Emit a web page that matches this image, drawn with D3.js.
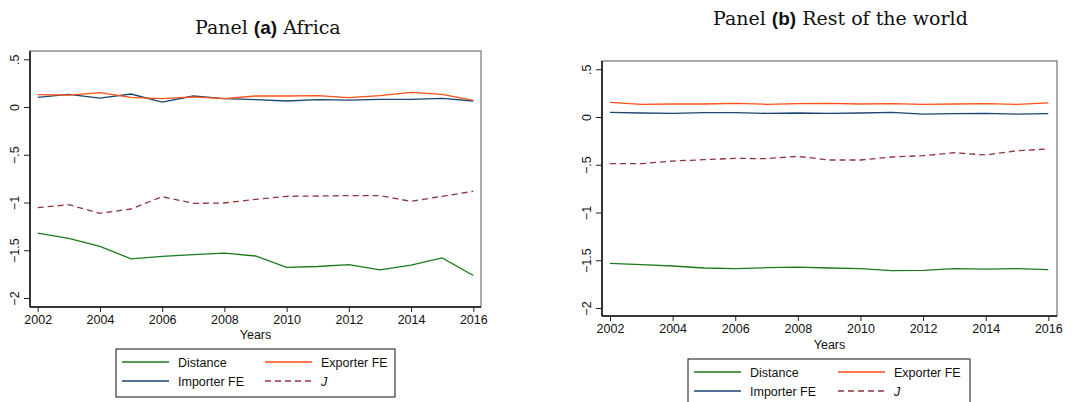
<!DOCTYPE html>
<html>
<head>
<meta charset="utf-8">
<script src="https://cdn.jsdelivr.net/npm/d3@7"></script>
<style>
  body { margin: 0; background: #fff; }
  svg { display: block; }
  .tick text { font-family: "Liberation Sans", Arial, sans-serif; font-size: 12.5px; fill: #111; }
  .tick line { stroke: #222; }
  .lbl { font-family: "Liberation Sans", Arial, sans-serif; font-size: 12.5px; fill: #111; }
  .ttl { font-family: "DejaVu Serif", "Liberation Serif", serif; font-size: 19px; fill: #111; }
</style>
</head>
<body>
<div id="container"></div>
<script>
var w = 1077,
  h = 402;

var years = d3.range(2002, 2017);
var yTicks = [-2, -1.5, -1, -0.5, 0, 0.5];
var xTicks = [2002, 2004, 2006, 2008, 2010, 2012, 2014, 2016];

// panel (a) Africa
var africaDistance = [-1.32, -1.375, -1.46, -1.59, -1.565, -1.545, -1.53, -1.56, -1.68, -1.67, -1.65, -1.705, -1.655, -1.58, -1.765];
var africaImporter = [0.10, 0.133, 0.094, 0.136, 0.052, 0.115, 0.087, 0.077, 0.063, 0.077, 0.073, 0.08, 0.08, 0.09, 0.063];
var africaExporter = [0.13, 0.125, 0.15, 0.10, 0.087, 0.105, 0.087, 0.115, 0.115, 0.12, 0.098, 0.12, 0.154, 0.133, 0.07];
var africaJ = [-1.054, -1.023, -1.113, -1.068, -0.939, -1.009, -1.005, -0.967, -0.935, -0.932, -0.928, -0.928, -0.988, -0.935, -0.883];

// panel (b) Rest of the world
var rowDistance = [-1.532, -1.546, -1.56, -1.581, -1.588, -1.578, -1.571, -1.581, -1.588, -1.609, -1.606, -1.588, -1.592, -1.588, -1.599];
var rowImporter = [0.049, 0.042, 0.038, 0.045, 0.045, 0.038, 0.042, 0.038, 0.042, 0.049, 0.031, 0.035, 0.038, 0.031, 0.035];
var rowExporter = [0.154, 0.133, 0.136, 0.136, 0.143, 0.133, 0.14, 0.143, 0.136, 0.14, 0.133, 0.136, 0.14, 0.133, 0.147];
var rowJ = [-0.489, -0.489, -0.461, -0.447, -0.433, -0.436, -0.412, -0.45, -0.45, -0.419, -0.405, -0.374, -0.398, -0.353, -0.335];

var colors = { "Distance": "#1b7a1b", "Importer FE": "#1a476f", "Exporter FE": "#ff4f14", "J": "#90353b" };

var svg = d3.select("#container").append("svg")
  .attr("width", w)
  .attr("height", h);

function drawPanel(p) {
  var g = svg.append("g");

  var x = d3.scaleLinear().domain([2002, 2016]).range([p.x0, p.x1]);
  var y = d3.scaleLinear().domain([0, -2]).range([p.y0, p.yMin2]);

  // frame
  g.append("rect")
    .attr("x", p.left).attr("y", p.top)
    .attr("width", p.right - p.left).attr("height", p.bottom - p.top)
    .attr("fill", "none").attr("stroke", "#555").attr("stroke-width", 1);
  g.append("line").attr("x1", p.left).attr("x2", p.left).attr("y1", p.top).attr("y2", p.bottom)
    .attr("stroke", "#111").attr("stroke-width", 1.5);
  g.append("line").attr("x1", p.left).attr("x2", p.right).attr("y1", p.bottom).attr("y2", p.bottom)
    .attr("stroke", "#111").attr("stroke-width", 1.5);

  // y axis
  var ya = g.append("g")
    .attr("transform", "translate(" + p.left + ",0)")
    .call(d3.axisLeft(y).tickValues(yTicks).tickSize(6).tickPadding(4)
      .tickFormat(function (d) {
        if (d === 0) return "0";
        var s = String(Math.abs(d)).replace(/^0/, "");
        return (d < 0 ? "\u2212" : "") + s;
      }));
  ya.select(".domain").remove();
  ya.selectAll(".tick text")
    .attr("text-anchor", "middle")
    .attr("x", 0)
    .attr("transform", "translate(-15,0) rotate(-90)")
    .attr("dy", "0.35em");

  // x axis
  var xa = g.append("g")
    .attr("transform", "translate(0," + p.bottom + ")")
    .call(d3.axisBottom(x).tickValues(xTicks).tickSize(5).tickPadding(3).tickFormat(d3.format("d")));
  xa.select(".domain").remove();

  g.append("text").attr("class", "lbl")
    .attr("x", (p.left + p.right) / 2).attr("y", p.yearsY)
    .attr("text-anchor", "middle").text("Years");

  // lines
  var line = d3.line()
    .x(function (d, i) { return x(years[i]); })
    .y(function (d) { return y(d); });

  ["Distance", "Importer FE", "Exporter FE", "J"].forEach(function (name) {
    g.append("path")
      .datum(p.data[name])
      .attr("fill", "none")
      .attr("stroke", colors[name])
      .attr("stroke-width", 1.3)
      .attr("stroke-dasharray", name === "J" ? "6,4" : null)
      .attr("d", line);
  });

  // title
  var t = g.append("text").attr("class", "ttl")
    .attr("x", p.titleX).attr("y", p.titleY);
  t.append("tspan").text("Panel ");
  t.append("tspan").attr("font-family", "Liberation Sans, Arial, sans-serif").attr("font-weight", "bold").text(p.tag);
  t.append("tspan").text(" " + p.region);

  // legend
  var lg = g.append("g");
  lg.append("rect")
    .attr("x", p.leg.x).attr("y", p.leg.y)
    .attr("width", p.leg.w).attr("height", p.leg.h)
    .attr("fill", "#fff").attr("stroke", "#111").attr("stroke-width", 1);
  var cells = [
    { name: "Distance", col: 0, row: 0 },
    { name: "Exporter FE", col: 1, row: 0 },
    { name: "Importer FE", col: 0, row: 1 },
    { name: "J", col: 1, row: 1 }
  ];
  cells.forEach(function (c) {
    var lx = p.leg.x + 6 + c.col * p.leg.colW;
    var ly = p.leg.y + 13 + c.row * 19;
    lg.append("line")
      .attr("x1", lx).attr("x2", lx + 47)
      .attr("y1", ly).attr("y2", ly)
      .attr("stroke", colors[c.name])
      .attr("stroke-width", 1.3)
      .attr("stroke-dasharray", c.name === "J" ? "6,4" : null);
    lg.append("text").attr("class", "lbl")
      .attr("x", lx + 56).attr("y", ly + 4.5)
      .attr("font-style", c.name === "J" ? "italic" : null)
      .text(c.name);
  });
}

drawPanel({
  left: 30, right: 481, top: 51, bottom: 307,
  x0: 37.7, x1: 473.3, y0: 107, yMin2: 298,
  yearsY: 339,
  titleX: 195, titleY: 34, tag: "(a)", region: "Africa",
  leg: { x: 116, y: 349, w: 279, h: 48, colW: 143 },
  data: { "Distance": africaDistance, "Importer FE": africaImporter, "Exporter FE": africaExporter, "J": africaJ }
});

drawPanel({
  left: 602, right: 1057, top: 61, bottom: 316,
  x0: 610, x1: 1048.3, y0: 117, yMin2: 308,
  yearsY: 349,
  titleX: 713, titleY: 25, tag: "(b)", region: "Rest of the world",
  leg: { x: 688, y: 359, w: 282, h: 48, colW: 144 },
  data: { "Distance": rowDistance, "Importer FE": rowImporter, "Exporter FE": rowExporter, "J": rowJ }
});
</script>
</body>
</html>
